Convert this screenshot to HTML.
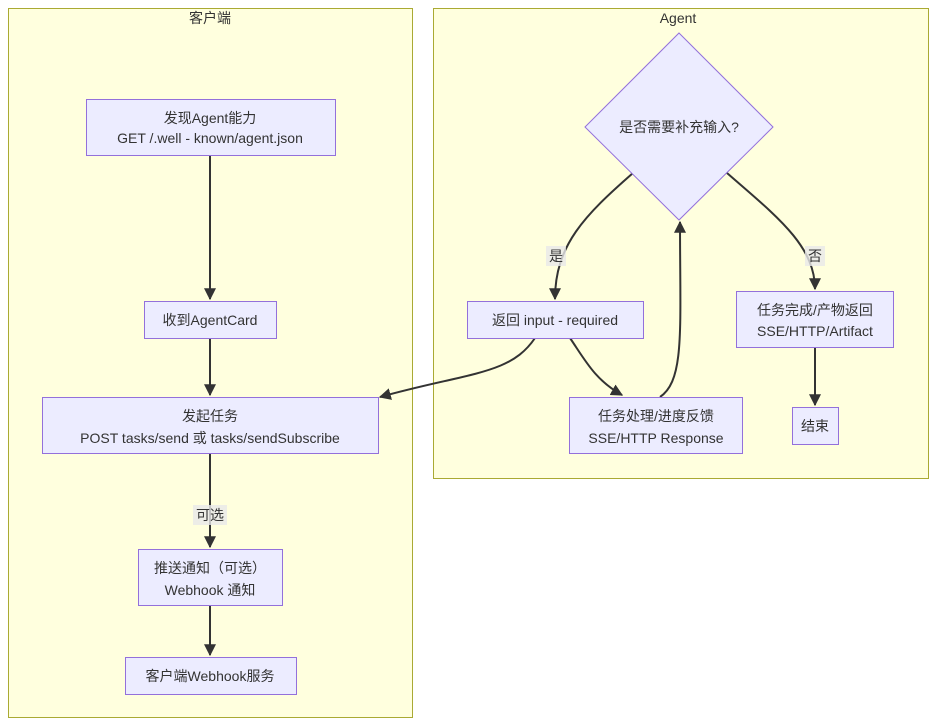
<!DOCTYPE html>
<html><head><meta charset="utf-8"><style>
html,body{margin:0;padding:0;background:#fff;}
svg{display:block;}
text{font-family:"Liberation Sans","Noto Sans CJK SC",sans-serif;font-size:14px;fill:#333;text-anchor:middle;}
.c{fill:#ffffde;stroke:#aaaa33;stroke-width:1;}
.n{fill:#ECECFF;stroke:#9370DB;stroke-width:1;}
.e{fill:none;stroke:#333;stroke-width:2;}
.lb{fill:rgba(232,232,232,0.8);}
</style></head><body>
<svg width="937" height="726" viewBox="0 0 937 726" xmlns="http://www.w3.org/2000/svg">
<defs><marker id="a" viewBox="0 0 10 10" refX="9" refY="5" markerWidth="6" markerHeight="6" orient="auto"><path d="M0,0L10,5L0,10z" fill="#333"/></marker></defs>
<rect class="c" x="8.5" y="8.5" width="404" height="709"/>
<text x="210" y="23">客户端</text>
<rect class="c" x="433.5" y="8.5" width="495" height="470"/>
<text x="678" y="23">Agent</text>

<path class="e" d="M210,155 L210,299" marker-end="url(#a)"/>
<path class="e" d="M210,338 L210,395" marker-end="url(#a)"/>
<path class="e" d="M210,454 L210,547" marker-end="url(#a)"/>
<path class="e" d="M210,606 L210,655" marker-end="url(#a)"/>
<path class="e" d="M633,173 C585,215 555,245 555,299" marker-end="url(#a)"/>
<path class="e" d="M727,173 C775,215 815,245 815,289" marker-end="url(#a)"/>
<path class="e" d="M535,338 C510,375 470,372 380,397" marker-end="url(#a)"/>
<path class="e" d="M570,338 C585,360 595,380 622,395" marker-end="url(#a)"/>
<path class="e" d="M660,397 C685,380 680,330 680,222" marker-end="url(#a)"/>
<path class="e" d="M815,348 L815,405" marker-end="url(#a)"/>

<rect class="lb" x="193" y="505" width="34" height="20"/><text x="210" y="520">可选</text>
<rect class="lb" x="546" y="246" width="20" height="20"/><text x="556" y="261">是</text>
<rect class="lb" x="805" y="246" width="20" height="20"/><text x="815" y="261">否</text>

<rect class="n" x="86.5" y="99.5" width="249" height="56"/>
<text x="210" y="123">发现Agent能力</text><text x="210" y="143">GET /.well - known/agent.json</text>
<rect class="n" x="144.5" y="301.5" width="132" height="37"/>
<text x="210" y="325">收到AgentCard</text>
<rect class="n" x="42.5" y="397.5" width="336" height="56"/>
<text x="210" y="421">发起任务</text><text x="210" y="443">POST tasks/send 或 tasks/sendSubscribe</text>
<rect class="n" x="138.5" y="549.5" width="144" height="56"/>
<text x="210" y="573">推送通知（可选）</text><text x="210" y="595">Webhook 通知</text>
<rect class="n" x="125.5" y="657.5" width="171" height="37"/>
<text x="210" y="681">客户端Webhook服务</text>

<polygon class="n" points="679,33 773,127 679,220 585,127"/>
<text x="679" y="132">是否需要补充输入?</text>
<rect class="n" x="467.5" y="301.5" width="176" height="37"/>
<text x="555" y="325">返回 input - required</text>
<rect class="n" x="569.5" y="397.5" width="173" height="56"/>
<text x="656" y="421">任务处理/进度反馈</text><text x="656" y="443">SSE/HTTP Response</text>
<rect class="n" x="736.5" y="291.5" width="157" height="56"/>
<text x="815" y="315">任务完成/产物返回</text><text x="815" y="336">SSE/HTTP/Artifact</text>
<rect class="n" x="792.5" y="407.5" width="46" height="37"/>
<text x="815" y="431">结束</text>
</svg>
</body></html>
